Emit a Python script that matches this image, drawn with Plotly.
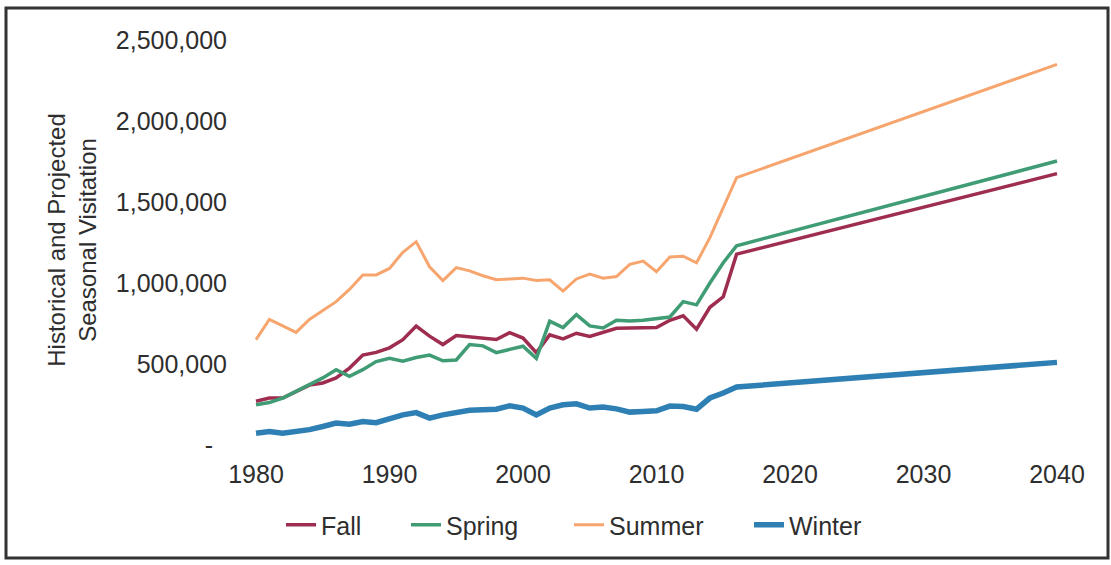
import plotly.graph_objects as go

years = list(range(1980, 2017)) + [2040]

fall = [270000, 290000, 290000, 330000, 370000, 383000, 414000, 475000, 555000, 572000,
        600000, 650000, 734000, 672000, 620000, 676000, 668000, 660000, 651000, 693000,
        660000, 570000, 680000, 655000, 690000, 670000, 693000, 720000, 722000, 724000,
        725000, 770000, 798000, 715000, 850000, 915000, 1178000, 1675000]

spring = [248000, 262000, 290000, 330000, 372000, 414000, 465000, 424000, 465000, 515000,
          535000, 517000, 540000, 555000, 520000, 525000, 620000, 612000, 570000, 590000,
          610000, 535000, 765000, 725000, 805000, 735000, 722000, 770000, 765000, 770000,
          780000, 790000, 885000, 865000, 1000000, 1125000, 1230000, 1753000]

summer = [650000, 775000, 735000, 695000, 775000, 830000, 885000, 960000, 1050000, 1050000,
          1090000, 1190000, 1255000, 1100000, 1015000, 1095000, 1075000, 1045000, 1020000, 1025000,
          1030000, 1015000, 1020000, 950000, 1025000, 1055000, 1030000, 1040000, 1115000, 1135000,
          1070000, 1160000, 1165000, 1125000, 1280000, 1465000, 1650000, 2350000]

winter = [72000, 83000, 72000, 83000, 95000, 114000, 135000, 128000, 145000, 138000,
          166000, 186000, 200000, 166000, 186000, 200000, 215000, 218000, 221000, 242000,
          228000, 186000, 228000, 248000, 254000, 228000, 234000, 223000, 203000, 207000,
          211000, 240000, 238000, 221000, 290000, 321000, 358000, 510000]

series_names = ["Fall", "Spring", "Summer", "Winter"]
series_values = [fall, spring, summer, winter]
series_colors = ["#9e2d4f", "#3f9c74", "#f7a56e", "#2e7fb4"]
series_widths = [3.5, 3.5, 3.0, 5.5]
legend_widths = [80, 118, 135, 80]

y_tickvals = [0, 500000, 1000000, 1500000, 2000000, 2500000]
y_ticktext = ["-\u00a0\u00a0", "500,000", "1,000,000", "1,500,000", "2,000,000", "2,500,000"]
x_tickvals = [1980, 1990, 2000, 2010, 2020, 2030, 2040]

FONT = "Liberation Sans, Arial, sans-serif"
TXT = "#2e2e2e"

fig = go.Figure()
for name, vals, col, w, lw in zip(series_names, series_values, series_colors,
                                  series_widths, legend_widths):
    fig.add_trace(go.Scatter(x=years, y=vals, mode="lines", name=name,
                             line=dict(color=col, width=w), legendwidth=lw))

L, R, T, B = 250, 46, 30, 115
W, H = 1111, 565
pw = W - L - R
ph = H - T - B

def px2paper_x(px):
    return (px - L) / pw

def px2paper_y(py):
    return (H - B - py) / ph

fig.update_layout(
    width=W, height=H,
    margin=dict(l=L, r=R, t=T, b=B, pad=0),
    paper_bgcolor="white", plot_bgcolor="white",
    font=dict(family=FONT, size=25, color=TXT),
    showlegend=True,
    legend=dict(orientation="h", xref="container", yref="container",
                x=281 / W, xanchor="left", y=1 - 525 / H, yanchor="middle",
                font=dict(size=25, color=TXT), itemwidth=30,
                bgcolor="rgba(0,0,0,0)"),
    xaxis=dict(range=[1979.55, 2040.6], tickvals=x_tickvals, showgrid=False,
               zeroline=False, showline=False, ticks="", ticklabelstandoff=7,
               tickfont=dict(size=25, color=TXT)),
    yaxis=dict(range=[-30864, 2561728], tickvals=y_tickvals, ticktext=y_ticktext,
               showgrid=False, zeroline=False, showline=False, ticks="",
               ticklabelstandoff=22, tickfont=dict(size=25, color=TXT),
               title=dict(text="Historical and Projected<br>Seasonal Visitation",
                          font=dict(size=24, color=TXT), standoff=12)),
    shapes=[dict(type="rect", xref="paper", yref="paper",
                 x0=px2paper_x(6), x1=px2paper_x(1108),
                 y0=px2paper_y(558), y1=px2paper_y(8),
                 line=dict(color="#333333", width=3), fillcolor="rgba(0,0,0,0)")],
)

fig.write_html("out.html", config={"displayModeBar": False},
               post_script="document.body.style.margin='0';document.body.style.padding='0';")
